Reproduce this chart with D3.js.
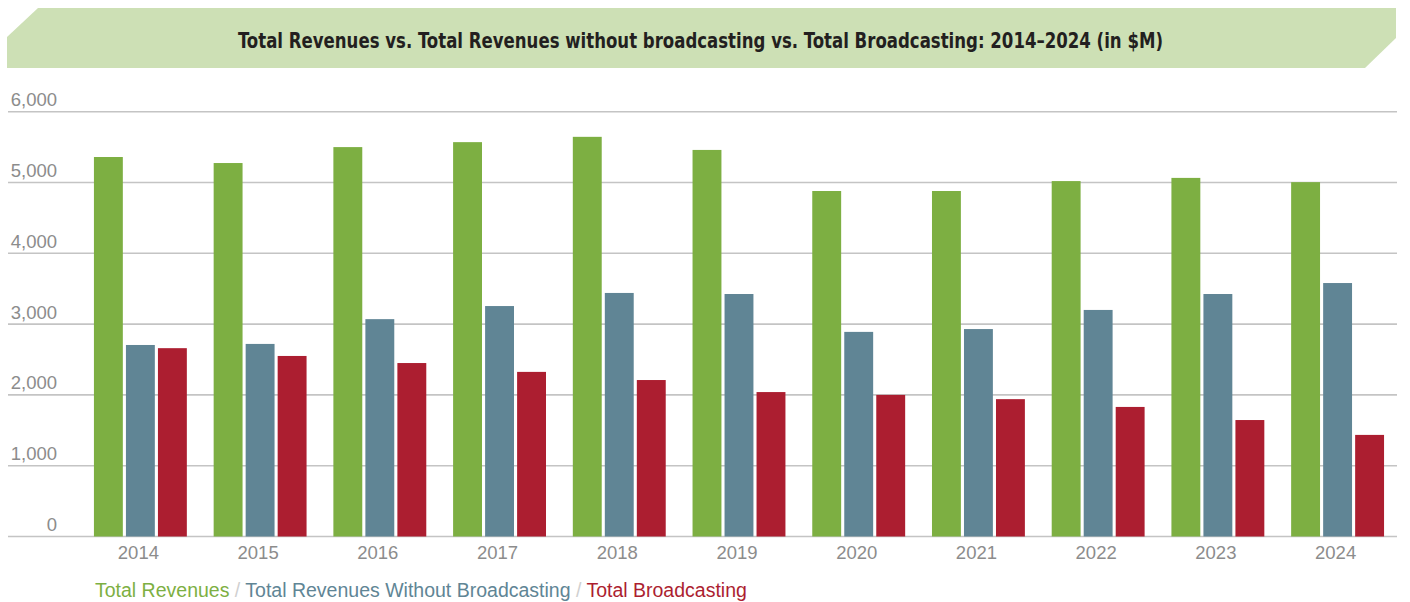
<!DOCTYPE html>
<html>
<head>
<meta charset="utf-8">
<script src="https://cdn.jsdelivr.net/npm/d3@7"></script>
<style>
  html, body { margin: 0; padding: 0; background: #fff; }
  svg { display: block; }
</style>
</head>
<body>
<svg id="chart" width="1410" height="602"></svg>
<script>
// Years on the x axis
const years = ["2014", "2015", "2016", "2017", "2018", "2019", "2020", "2021", "2022", "2023", "2024"];

// Series values, $M
const totalRevenues = [5360, 5275, 5500, 5570, 5645, 5460, 4880, 4880, 5020, 5065, 5005];
const revenuesWithoutBroadcasting = [2705, 2720, 3070, 3255, 3440, 3425, 2890, 2930, 3200, 3425, 3580];
const totalBroadcasting = [2660, 2550, 2450, 2325, 2210, 2040, 2000, 1940, 1830, 1645, 1435];

// Series names and y-axis ticks
const seriesNames = ["Total Revenues", "Total Revenues Without Broadcasting", "Total Broadcasting"];
const yTicks = [0, 1000, 2000, 3000, 4000, 5000, 6000];

const titleText = "Total Revenues vs. Total Revenues without broadcasting vs. Total Broadcasting: 2014\u20132024 (in $M)";

const colors = ["#7daf42", "#608595", "#ac1e30"];
const series = [totalRevenues, revenuesWithoutBroadcasting, totalBroadcasting];

const svg = d3.select("#chart");

// Title banner with clipped corners
svg.append("path")
  .attr("d", "M38,8 L1396,8 L1396,38 L1365,68 L7,68 L7,37 Z")
  .attr("fill", "#cde0b5");

svg.append("text")
  .attr("x", 700.5)
  .attr("y", 47.5)
  .attr("text-anchor", "middle")
  .attr("font-family", "'Liberation Sans Narrow', 'DejaVu Sans Condensed', 'Open Sans', sans-serif")
  .attr("font-weight", "bold")
  .attr("font-size", 21)
  .attr("fill", "#231f20")
  .attr("textLength", 925)
  .attr("lengthAdjust", "spacingAndGlyphs")
  .text(titleText);

// Scales
const x = d3.scaleBand()
  .domain(years)
  .range([8, 1397])
  .paddingInner(0.224)
  .paddingOuter(0.413)
  .align(0.869);

const xSub = d3.scaleBand()
  .domain(d3.range(series.length))
  .range([0, x.bandwidth()])
  .paddingInner(0.097);

const y = d3.scaleLinear()
  .domain([0, 6000])
  .range([536.5, 111.7]);

// Gridlines
svg.append("g")
  .selectAll("line")
  .data(yTicks)
  .join("line")
  .attr("x1", 8)
  .attr("x2", 1397)
  .attr("y1", d => y(d))
  .attr("y2", d => y(d))
  .attr("stroke", "#c4c4c4")
  .attr("stroke-width", 1.6);

// Y axis labels sit above their gridlines
const yAxis = d3.axisLeft(y).tickValues(yTicks).tickFormat(d3.format(",")).tickSize(0).tickPadding(0);
const gy = svg.append("g")
  .attr("transform", "translate(57,0)")
  .call(yAxis);
gy.select(".domain").remove();
gy.selectAll("text")
  .attr("dy", null)
  .attr("y", -6)
  .attr("font-family", "'Liberation Sans', Arial, sans-serif")
  .attr("font-size", 18.5)
  .attr("fill", "#8c8c8c");

// Bars
const groups = svg.append("g")
  .selectAll("g")
  .data(years)
  .join("g")
  .attr("transform", d => `translate(${x(d)},0)`);

groups.selectAll("rect")
  .data((d, i) => series.map((s, k) => ({ k, v: s[i] })))
  .join("rect")
  .attr("x", d => xSub(d.k))
  .attr("width", xSub.bandwidth())
  .attr("y", d => y(d.v))
  .attr("height", d => y(0) - y(d.v))
  .attr("fill", d => colors[d.k]);

// X axis labels
const xAxis = d3.axisBottom(x).tickSize(0).tickPadding(0);
const gx = svg.append("g")
  .attr("transform", "translate(-2,0)")
  .call(xAxis);
gx.select(".domain").remove();
gx.selectAll("text")
  .attr("dy", null)
  .attr("y", 559)
  .attr("font-family", "'Liberation Sans', Arial, sans-serif")
  .attr("font-size", 18.5)
  .attr("fill", "#8c8c8c");

// Legend line
const legend = svg.append("text")
  .attr("x", 95)
  .attr("y", 597)
  .attr("font-family", "'Liberation Sans', Arial, sans-serif")
  .attr("font-size", 19.5);

seriesNames.forEach((name, i) => {
  if (i > 0) {
    legend.append("tspan").attr("fill", "#d0d0d0").text(" / ");
  }
  legend.append("tspan").attr("fill", colors[i]).text(name);
});
</script>
</body>
</html>
